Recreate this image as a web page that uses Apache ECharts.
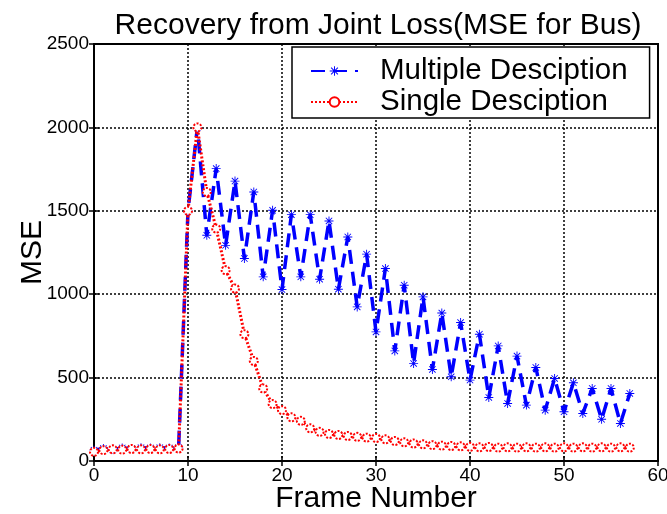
<!DOCTYPE html>
<html>
<head>
<meta charset="utf-8">
<script src="https://cdn.jsdelivr.net/npm/echarts@6/dist/echarts.min.js"></script>
<style>
  html, body { margin: 0; padding: 0; background: #fff; }
  #chart { width: 667px; height: 514px; }
</style>
</head>
<body>
<div id="chart"></div>
<script>
// ── 数据 ──
const frames = [0, 1, 2, 3, 4, 5, 6, 7, 8, 9, 10, 11, 12, 13, 14, 15, 16, 17, 18, 19,
  20, 21, 22, 23, 24, 25, 26, 27, 28, 29, 30, 31, 32, 33, 34, 35, 36, 37, 38, 39,
  40, 41, 42, 43, 44, 45, 46, 47, 48, 49, 50, 51, 52, 53, 54, 55, 56, 57];

const multipleMse = [65, 75, 70, 78, 75, 80, 78, 80, 78, 80,
  1500, 2000, 1353, 1753, 1293, 1678, 1214, 1613, 1104, 1503,
  1028, 1477, 1104, 1477, 1090, 1439, 1030, 1343, 924, 1240,
  774, 1154, 660, 1054, 585, 984, 549, 887, 505, 830,
  485, 760, 381, 690, 345, 629, 335, 561, 305, 495,
  295, 469, 285, 435, 250, 435, 225, 405];

const singleMse = [55, 65, 70, 68, 72, 70, 72, 70, 72, 75,
  1500, 2000, 1613, 1393, 1144, 1034, 760, 600, 435, 341,
  305, 262, 241, 196, 175, 162, 156, 150, 145, 140,
  138, 130, 120, 112, 105, 100, 95, 92, 90, 88,
  85, 82, 84, 80, 82, 80, 82, 80, 82, 80,
  82, 80, 82, 80, 82, 80, 82, 80];

const xTicks = { min: 0, max: 60, interval: 10 };
const yTicks = { min: 0, max: 2500, interval: 500 };

const FONT = '"Liberation Sans", Arial, sans-serif';
// 星号 marker（MATLAB '*'）
const STAR = 'path://M9,0h2v20h-2z M0,9h20v2h-20z M2.2,3.6L3.6,2.2L17.8,16.4L16.4,17.8z M16.4,2.2L17.8,3.6L3.6,17.8L2.2,16.4z';

const pairs = (ys) => frames.map((f, i) => [f, ys[i]]);

const chart = echarts.init(document.getElementById('chart'));

const gridLine = { show: true, lineStyle: { color: '#000', width: 1.5, type: [2, 2] } };
const edge = { show: true, lineStyle: { color: '#000', width: 2 } };
const tick = { show: true, inside: true, length: 5, lineStyle: { color: '#000', width: 1.5 } };

chart.setOption({
  animation: false,
  textStyle: { fontFamily: FONT },
  title: {
    text: 'Recovery from Joint Loss(MSE for Bus)',
    left: 373, top: 6, textAlign: 'center',
    textStyle: { fontFamily: FONT, fontSize: 30, fontWeight: 'normal', color: '#000' }
  },
  grid: {
    left: 94, right: 9, top: 44, bottom: 53,
    containLabel: false, outerBoundsMode: 'none',
    show: true, borderColor: '#000', borderWidth: 2, backgroundColor: 'transparent'
  },
  legend: {
    left: 292, top: 47,
    orient: 'vertical',
    backgroundColor: '#fff', borderColor: '#000', borderWidth: 1.5,
    padding: [9, 22, 1, 18],
    itemWidth: 47, itemHeight: 12, itemGap: 1,
    textStyle: { fontFamily: FONT, fontSize: 29.5, color: '#000', padding: [0, 0, 0, 17] },
    data: ['Multiple Desciption', 'Single Desciption']
  },
  xAxis: [{
    type: 'value', ...xTicks,
    name: 'Frame Number', nameLocation: 'middle', nameGap: 23, nameMoveOverlap: false,
    nameTextStyle: { fontFamily: FONT, fontSize: 30, color: '#000' },
    axisLine: edge, axisTick: tick,
    axisLabel: { fontFamily: FONT, fontSize: 19, color: '#000', margin: 5 },
    splitLine: gridLine
  }, {
    type: 'value', ...xTicks, position: 'top',
    axisLine: edge, axisTick: tick,
    axisLabel: { show: false }, splitLine: { show: false }
  }],
  yAxis: [{
    type: 'value', ...yTicks,
    name: 'MSE', nameLocation: 'middle', nameGap: 46, nameMoveOverlap: false,
    nameTextStyle: { fontFamily: FONT, fontSize: 30, color: '#000' },
    axisLine: edge, axisTick: tick,
    axisLabel: { fontFamily: FONT, fontSize: 19, color: '#000', margin: 5, formatter: v => String(v) },
    splitLine: gridLine
  }, {
    type: 'value', ...yTicks, position: 'right',
    axisLine: edge, axisTick: tick,
    axisLabel: { show: false }, splitLine: { show: false }
  }],
  series: [
    {
      name: 'Multiple Desciption', type: 'line', data: pairs(multipleMse),
      symbol: STAR, symbolSize: 9,
      lineStyle: { color: '#0000ff', width: 3.5, type: [14, 8] },
      itemStyle: { color: '#0000ff' },
      z: 3
    },
    {
      name: 'Single Desciption', type: 'line', data: pairs(singleMse),
      symbol: 'emptyCircle', symbolSize: 8,
      lineStyle: { color: '#ff0000', width: 3, type: [2, 2] },
      itemStyle: { color: '#ff0000', borderColor: '#ff0000', borderWidth: 2.5, borderType: [2, 1.5] },
      z: 4
    }
  ]
});
</script>
</body>
</html>
